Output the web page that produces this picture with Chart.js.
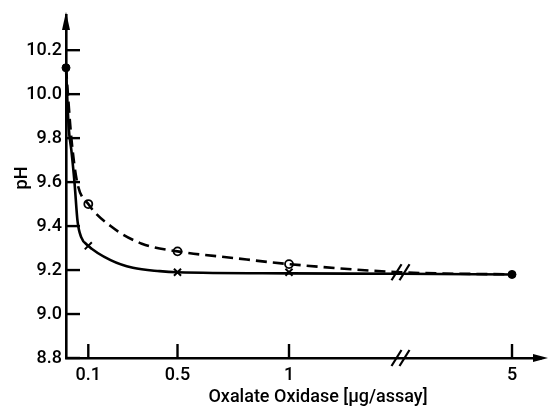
<!DOCTYPE html>
<html>
<head>
<meta charset="utf-8">
<script src="https://cdn.jsdelivr.net/npm/chart.js@4.4.1/dist/chart.umd.min.js"></script>
<style>
  body { margin: 0; background: #fff; }
</style>
</head>
<body>
<canvas id="myChart" width="548" height="411"></canvas>
<script>
// values (x in ug/assay, y in pH)
var solidX = [0, 0.012, 0.024, 0.038, 0.052, 0.068, 0.1, 0.2, 0.3, 0.42, 0.5, 1, 1.5, 5];
var solidY = [10.12, 9.85, 9.745, 9.6, 9.42, 9.35, 9.31, 9.245, 9.21, 9.195, 9.19, 9.185, 9.183, 9.18];
var dashX = [0, 0.024, 0.05, 0.1, 0.2, 0.34, 0.5, 0.75, 1, 1.5, 5];
var dashY = [10.12, 9.8, 9.6, 9.5, 9.4, 9.32, 9.285, 9.255, 9.227, 9.19, 9.18];
var crossX = [0.1, 0.5, 1];
var crossY = [9.31, 9.19, 9.19];
var circleX = [0.1, 0.5, 1];
var circleY = [9.5, 9.285, 9.227];
var dotX = [0, 5];
var dotY = [10.12, 9.18];
var xTickValues = [0.1, 0.5, 1, 5];
var xTickLabels = ['0.1', '0.5', '1', '5'];
var yTickValues = [8.8, 9.0, 9.2, 9.4, 9.6, 9.8, 10.0, 10.2];

var BREAK = 1.5;
var FONT = 'Roboto, "DejaVu Sans Condensed", sans-serif';

// broken x axis: linear up to the break, then compressed
function pos(v) {
	return v <= BREAK ? v : BREAK + (v - BREAK) * (0.5 / 3.5);
}

function pts(xs, ys) {
	return xs.map(function(x, i) { return { x: pos(x), y: ys[i] }; });
}

function slashes(ctx, x, y) {
	ctx.save();
	ctx.strokeStyle = '#000';
	ctx.lineWidth = 2.2;
	[-4, 4].forEach(function(dx) {
		ctx.beginPath();
		ctx.moveTo(x + dx - 5, y + 8);
		ctx.lineTo(x + dx + 5, y - 8);
		ctx.stroke();
	});
	ctx.restore();
}

var decor = {
	id: 'decor',
	afterDraw: function(chart) {
		var ctx = chart.ctx;
		var xs = chart.scales.x, ys = chart.scales.y;
		var area = chart.chartArea;
		ctx.save();
		ctx.strokeStyle = '#000';
		ctx.fillStyle = '#000';
		ctx.lineWidth = 2.4;
		// inward ticks
		yTickValues.forEach(function(v) {
			var py = ys.getPixelForValue(v);
			ctx.beginPath(); ctx.moveTo(area.left, py); ctx.lineTo(area.left + 14, py); ctx.stroke();
		});
		xTickValues.forEach(function(v) {
			var px = xs.getPixelForValue(pos(v));
			ctx.beginPath(); ctx.moveTo(px, area.bottom); ctx.lineTo(px, area.bottom - 14); ctx.stroke();
		});
		// arrow heads
		ctx.beginPath();
		ctx.moveTo(area.left, area.top - 3);
		ctx.lineTo(area.left - 4, area.top + 15);
		ctx.lineTo(area.left + 4, area.top + 15);
		ctx.closePath(); ctx.fill();
		ctx.beginPath();
		ctx.moveTo(548, area.bottom);
		ctx.lineTo(533, area.bottom - 4);
		ctx.lineTo(533, area.bottom + 4);
		ctx.closePath(); ctx.fill();
		// axis breaks
		var bx = xs.getPixelForValue(BREAK);
		slashes(ctx, bx, area.bottom);
		slashes(ctx, bx, ys.getPixelForValue(9.19));
		// axis titles
		ctx.font = '500 18px ' + FONT;
		ctx.textAlign = 'center';
		ctx.textBaseline = 'middle';
		ctx.fillText('Oxalate Oxidase [\u00b5g/assay]', 318, 397);
		ctx.translate(22, 178);
		ctx.rotate(-Math.PI / 2);
		ctx.fillText('pH', 0, 0);
		ctx.restore();
	}
};

var ctx = document.getElementById('myChart');

var myChart = new Chart(ctx, {
	type: 'scatter',
	data: {
		datasets: [
		{
			data: pts(solidX, solidY),
			showLine: true,
			borderColor: '#000',
			borderWidth: 2.6,
			pointRadius: 0,
			cubicInterpolationMode: 'monotone',
			clip: false
		},
		{
			data: pts(dashX, dashY),
			showLine: true,
			borderColor: '#000',
			borderWidth: 2.6,
			borderDash: [11, 6],
			pointRadius: 0,
			cubicInterpolationMode: 'monotone',
			clip: false
		},
		{
			data: pts(crossX, crossY),
			pointStyle: 'crossRot',
			pointRadius: 5,
			borderColor: '#000',
			borderWidth: 2,
			clip: false
		},
		{
			data: pts(circleX, circleY),
			pointStyle: 'circle',
			pointRadius: 4,
			backgroundColor: '#fff',
			borderColor: '#000',
			borderWidth: 1.8,
			clip: false
		},
		{
			data: pts(dotX, dotY),
			pointStyle: 'circle',
			pointRadius: 4,
			backgroundColor: '#000',
			borderColor: '#000',
			borderWidth: 1,
			clip: false
		}]
	},
	options: {
		responsive: false,
		animation: false,
		layout: { padding: { top: 15, right: 3, left: 0, bottom: 0 } },
		plugins: {
			legend: { display: false },
			tooltip: { enabled: false }
		},
		scales: {
			x: {
				type: 'linear',
				min: 0,
				max: 2.13,
				afterFit: function(scale) { scale.height = 53; },
				afterBuildTicks: function(scale) {
					scale.ticks = xTickValues.map(function(v) { return { value: pos(v) }; });
				},
				grid: { display: false, drawTicks: false },
				border: { display: true, color: '#000', width: 2.6 },
				ticks: {
					color: '#000',
					padding: 7,
					maxRotation: 0,
					autoSkip: false,
					font: { family: FONT, size: 18, weight: '500' },
					callback: function(v, i) { return xTickLabels[i]; }
				}
			},
			y: {
				min: 8.8,
				max: 10.36,
				afterFit: function(scale) { scale.width = 66; },
				afterBuildTicks: function(scale) {
					scale.ticks = yTickValues.map(function(v) { return { value: v }; });
				},
				grid: { display: false, drawTicks: false },
				border: { display: true, color: '#000', width: 2.6 },
				ticks: {
					color: '#000',
					padding: 4,
					autoSkip: false,
					font: { family: FONT, size: 18, weight: '500' },
					callback: function(v) { return v.toFixed(1); }
				}
			}
		}
	},
	plugins: [decor]
});
</script>
</body>
</html>
